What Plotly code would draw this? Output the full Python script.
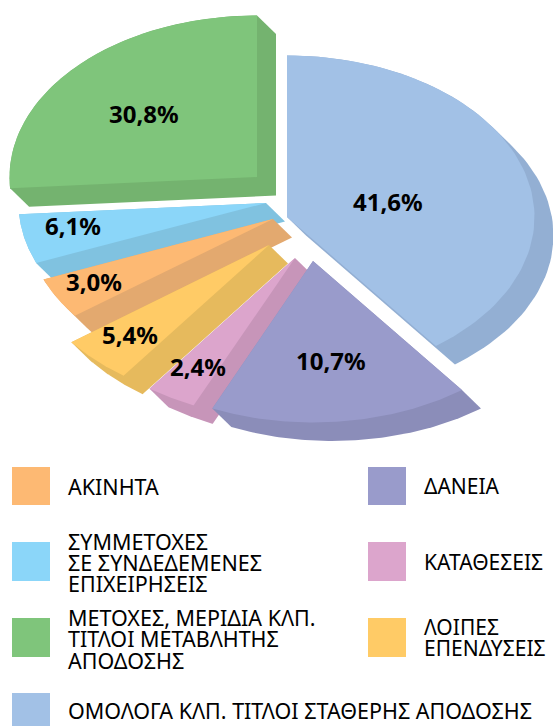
import numpy as np
import plotly.graph_objects as go

# Printed labels, clockwise from 12 o'clock
slice_names = ["ΟΜΟΛΟΓΑ", "ΔΑΝΕΙΑ", "ΚΑΤΑΘΕΣΕΙΣ", "ΛΟΙΠΕΣ ΕΠΕΝΔΥΣΕΙΣ", "ΑΚΙΝΗΤΑ", "ΣΥΜΜΕΤΟΧΕΣ", "ΜΕΤΟΧΕΣ"]
printed_percent = ["41,6%", "10,7%", "2,4%", "5,4%", "3,0%", "6,1%", "30,8%"]
# Sweep of each wedge as actually drawn in the picture (the artwork does not follow the printed shares)
drawn_degrees = [143, 61, 12, 17, 15, 18, 94]

top_colors = ["#A2C1E6", "#999BCB", "#DCA5CC", "#FFCB66", "#FDB973", "#8BD6F9", "#7FC57B"]
side_colors = ["#93AFD3", "#8B8DB9", "#C795B9", "#E6BA5D", "#E3A96F", "#80C2E0", "#74B36F"]

# Layout of the exploded pie, in pixels
apex = [(287, 217), (313, 261), (295, 258), (269, 245), (273, 219), (266, 203), (257, 177)]
label_pos = [(388, 201), (331, 360), (198, 366), (130, 334), (94, 281), (73, 225), (144, 113)]
RX, RY = 247.5, 161.5
DEPTH = (19, 18.5)
draw_order = [0, 6, 5, 4, 3, 2, 1]

legend_entries = [
    (12, 467, 505, "#FDB973", [("ΑΚΙΝΗΤΑ", 486)], 21.5),
    (12, 542, 581, "#8BD6F9", [("ΣΥΜΜΕΤΟΧΕΣ", 541), ("ΣΕ ΣΥΝΔΕΔΕΜΕΝΕΣ", 562), ("ΕΠΙΧΕΙΡΗΣΕΙΣ", 583)], 21.5),
    (12, 618, 657, "#7FC57B", [("ΜΕΤΟΧΕΣ, ΜΕΡΙΔΙΑ ΚΛΠ.", 617), ("ΤΙΤΛΟΙ ΜΕΤΑΒΛΗΤΗΣ", 638), ("ΑΠΟΔΟΣΗΣ", 660)], 21.5),
    (12, 693, 726, "#A2C1E6", [("ΟΜΟΛΟΓΑ ΚΛΠ. ΤΙΤΛΟΙ ΣΤΑΘΕΡΗΣ ΑΠΟΔΟΣΗΣ", 710)], 21.5),
    (368, 467, 505, "#999BCB", [("ΔΑΝΕΙΑ", 486)], 21),
    (368, 542, 581, "#DCA5CC", [("ΚΑΤΑΘΕΣΕΙΣ", 562)], 21),
    (368, 618, 657, "#FFCB66", [("ΛΟΙΠΕΣ", 627), ("ΕΠΕΝΔΥΣΕΙΣ", 648)], 21),
]


def wedge(ax, ay, t0, t1):
    t = np.radians(np.linspace(t0, t1, 80))
    xs = np.r_[ax, ax + RX * np.sin(t)]
    ys = np.r_[ay, ay - RY * np.cos(t)]
    return xs, ys


def hull(xs, ys):
    pts = sorted(set(zip(xs.tolist(), ys.tolist())))
    def half(points):
        out = []
        for p in points:
            while len(out) > 1 and (out[-1][0]-out[-2][0])*(p[1]-out[-2][1]) - (out[-1][1]-out[-2][1])*(p[0]-out[-2][0]) <= 0:
                out.pop()
            out.append(p)
        return out[:-1]
    h = half(pts) + half(pts[::-1])
    h.append(h[0])
    return [p[0] for p in h], [p[1] for p in h]


ends = np.cumsum(drawn_degrees)
starts = ends - np.array(drawn_degrees)

fig = go.Figure()
for i in draw_order:
    ax, ay = apex[i]
    xs, ys = wedge(ax, ay, starts[i], ends[i])
    hx, hy = hull(np.r_[xs, xs + DEPTH[0]], np.r_[ys, ys + DEPTH[1]])
    fig.add_trace(go.Scatter(x=hx, y=hy, fill="toself", fillcolor=side_colors[i], mode="lines",
                             line=dict(width=0), hoverinfo="skip", showlegend=False))
    fig.add_trace(go.Scatter(x=xs.tolist() + [ax], y=ys.tolist() + [ay], fill="toself", fillcolor=top_colors[i],
                             mode="lines", line=dict(width=0), name=slice_names[i], text=printed_percent[i],
                             hoverinfo="name+text", showlegend=False))

for i, (lx, ly) in enumerate(label_pos):
    fig.add_annotation(x=lx, y=ly, text=printed_percent[i], showarrow=False, xanchor="center", yanchor="middle",
                       font=dict(family="Noto Sans", size=24, color="#000000", weight="bold"))

for x0, y0, y1, color, lines, fs in legend_entries:
    fig.add_shape(type="rect", x0=x0, x1=x0 + 38, y0=y0, y1=y1, fillcolor=color, line_width=0, layer="below")
    for text, y in lines:
        fig.add_annotation(x=x0 + 54, y=y, text=text, showarrow=False, xanchor="left", yanchor="middle",
                           font=dict(family="Noto Sans", size=fs, color="#000000"))

fig.update_layout(
    width=553, height=726, margin=dict(l=0, r=0, t=0, b=0), autosize=False,
    paper_bgcolor="white", plot_bgcolor="white", showlegend=False,
    xaxis=dict(range=[0, 553], visible=False, fixedrange=True),
    yaxis=dict(range=[726, 0], visible=False, fixedrange=True),
)
fig.write_html("out.html", config={"displayModeBar": False},
               post_script="document.body.style.margin='0';document.body.style.overflow='hidden';")
